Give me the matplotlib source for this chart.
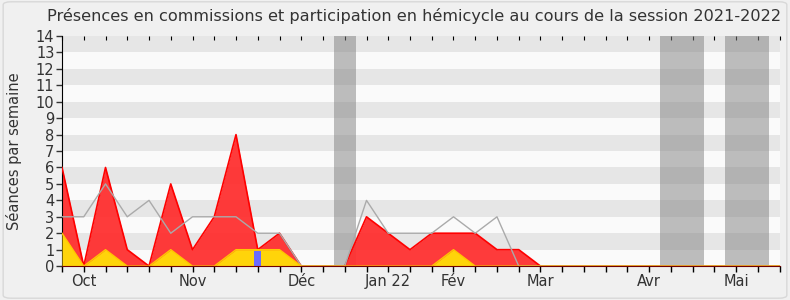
import matplotlib
matplotlib.use("Agg")
import matplotlib.pyplot as plt
from matplotlib.patches import FancyBboxPatch
import numpy as np

# one value per week of the session, week 0 = end of september 2021
weeks = np.arange(34)
presences = [6, 0, 6, 1, 0, 5, 1, 3, 8, 1, 2, 0, 0, 0, 3, 2, 1, 2, 2, 2, 1, 1,
             0, 0, 0, 0, 0, 0, 0, 0, 0, 0, 0, 0]
hemicycle = [2, 0, 1, 0, 0, 1, 0, 0, 1, 1, 1, 0, 0, 0, 0, 0, 0, 0, 1, 0, 0, 0,
             0, 0, 0, 0, 0, 0, 0, 0, 0, 0, 0, 0]
mediane = [3, 3, 5, 3, 4, 2, 3, 3, 3, 2, 2, 0, 0, 0, 4, 2, 2, 2, 3, 2, 3, 0,
           0, 0, 0, 0, 0, 0, 0, 0, 0, 0, 0, 0]
questions_week = [9]
questions = [0.9]
vacances = [(12.5, 13.5), (27.5, 29.5), (30.5, 32.5)]
mois_pos = [1, 6, 11, 15, 18, 22, 27, 31]
mois_lab = ["Oct", "Nov", "Déc", "Jan 22", "Fév", "Mar", "Avr", "Mai"]

fig = plt.figure(figsize=(7.9, 3.0), dpi=100)
fig.patch.set_facecolor("#f0f0f0")
fig.patches.append(FancyBboxPatch((0.004, 0.006), 0.992, 0.988,
                                  boxstyle="round,pad=0,rounding_size=0.01",
                                  transform=fig.transFigure, facecolor="none",
                                  edgecolor="#d8d8d8", linewidth=1))
ax = fig.add_axes([0.0785, 0.113, 0.9085, 0.767])
ax.set_facecolor("#fafafa")

for n in range(1, 14, 2):
    ax.axhspan(n, n + 1, color="#e6e6e6", lw=0, zorder=0)
for a, b in vacances:
    ax.axvspan(a, b, color="#808080", alpha=0.5, lw=0, zorder=1)

ax.fill_between(weeks, presences, 0, color="#ff3030", alpha=0.95, lw=0, zorder=2)
ax.plot(weeks, presences, color="#ff0000", lw=1.2, zorder=3)
ax.plot(weeks, mediane, color="#aaaaaa", lw=1, zorder=4)
ax.fill_between(weeks, hemicycle, 0, color="#ffd40a", lw=0, zorder=5)
ax.plot(weeks, hemicycle, color="#ffc800", lw=1, zorder=5)
ax.bar(questions_week, questions, width=0.3, color="#6b6bff", zorder=6)

ax.set_xlim(0, 33)
ax.set_ylim(0, 14)
ax.set_yticks(range(15))
ax.set_xticks(weeks)
labels = [""] * 34
for p, l in zip(mois_pos, mois_lab):
    labels[p] = l
ax.set_xticklabels(labels)
ax.tick_params(axis="both", colors="#333333", labelsize=10.5, length=4,
               width=1, pad=1.5)
ax.tick_params(axis="x", colors="#000000", labelcolor="#333333")

top = ax.secondary_xaxis("top")
top.set_xticks(weeks)
top.set_xticklabels([])
top.tick_params(direction="in", length=3, color="#000000")
top.spines["top"].set_visible(False)

ax.spines["top"].set_visible(False)
ax.spines["right"].set_visible(False)
ax.spines["left"].set_color("#000000")
ax.spines["bottom"].set_color("#700000")
ax.spines["bottom"].set_zorder(7)

ax.set_ylabel("Séances par semaine", fontsize=10.5, color="#333333")
ax.yaxis.set_label_coords(-0.056, 0.5)
fig.text(0.524, 0.945, "Présences en commissions et participation en hémicycle au cours de la session 2021-2022",
         ha="center", va="center", fontsize=11.6, color="#333333")

fig.savefig("out.png", dpi=100, facecolor=fig.get_facecolor())
